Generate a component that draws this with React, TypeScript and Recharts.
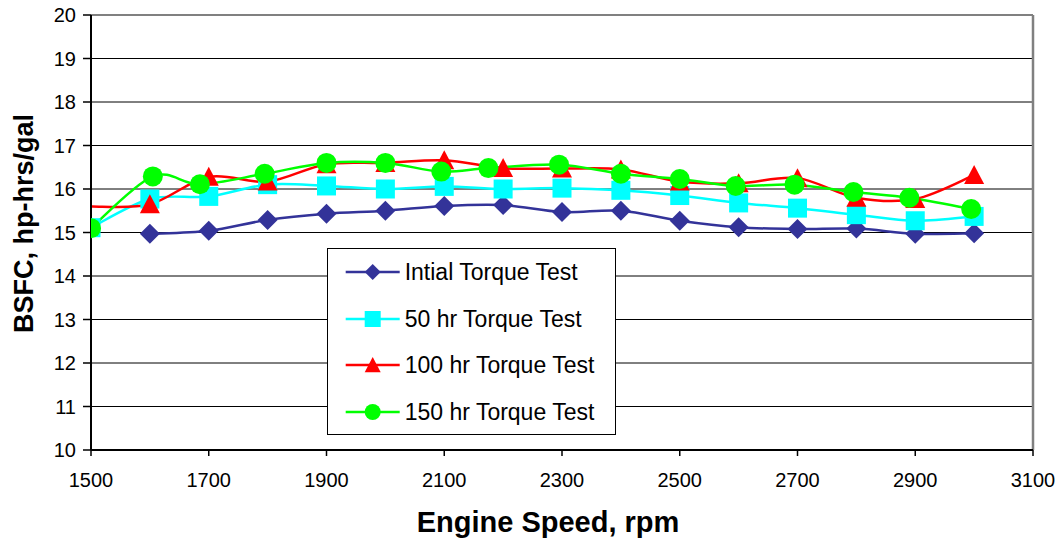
import React from "react";
import {
  LineChart,
  Line,
  XAxis,
  YAxis,
  CartesianGrid,
  ReferenceLine,
} from "recharts";

const FONT = '"Liberation Sans", Arial, sans-serif';

// values
const xTicks = [1500, 1700, 1900, 2100, 2300, 2500, 2700, 2900, 3100];
const yTicks = [10, 11, 12, 13, 14, 15, 16, 17, 18, 19, 20];

const seriesNames = [
  "Intial Torque Test",
  "50 hr Torque Test",
  "100 hr Torque Test",
  "150 hr Torque Test",
];

const initialRpm = [1600, 1700, 1800, 1900, 2000, 2100, 2200, 2300, 2400, 2500, 2600, 2700, 2800, 2900, 3000];
const initialBsfc = [14.97, 15.04, 15.29, 15.43, 15.5, 15.61, 15.63, 15.47, 15.5, 15.27, 15.12, 15.08, 15.09, 14.97, 14.98];

const hr50Rpm = [1500, 1600, 1700, 1800, 1900, 2000, 2100, 2200, 2300, 2400, 2500, 2600, 2700, 2800, 2900, 3000];
const hr50Bsfc = [15.11, 15.77, 15.83, 16.1, 16.07, 16.0, 16.06, 16.0, 16.02, 15.97, 15.85, 15.68, 15.56, 15.41, 15.27, 15.37];

const hr100Rpm = [1500, 1600, 1700, 1800, 1900, 2000, 2100, 2200, 2300, 2400, 2500, 2600, 2700, 2800, 2900, 3000];
const hr100Bsfc = [15.6, 15.65, 16.28, 16.17, 16.57, 16.6, 16.66, 16.48, 16.47, 16.45, 16.17, 16.13, 16.25, 15.8, 15.77, 16.32];

const hr150Rpm = [1500, 1605, 1685, 1795, 1900, 2000, 2095, 2175, 2295, 2400, 2500, 2595, 2695, 2795, 2890, 2995];
const hr150Bsfc = [15.1, 16.29, 16.11, 16.35, 16.6, 16.6, 16.4, 16.48, 16.56, 16.35, 16.23, 16.07, 16.1, 15.93, 15.8, 15.54];

const toRows = (rpm: number[], bsfc: number[]) =>
  rpm.map((r, i) => ({ rpm: r, bsfc: bsfc[i] }));

const initialData = toRows(initialRpm, initialBsfc);
const hr50Data = toRows(hr50Rpm, hr50Bsfc);
const hr100Data = toRows(hr100Rpm, hr100Bsfc);
const hr150Data = toRows(hr150Rpm, hr150Bsfc);

const colors = ["#333399", "#00FFFF", "#FF0000", "#00FF00"];

// Excel style smoothed line (Catmull-Rom as cubic beziers)
function excelSmooth(context: any) {
  let pts: number[][] = [];
  return {
    areaStart() {},
    areaEnd() {},
    lineStart() {
      pts = [];
    },
    point(x: number, y: number) {
      pts.push([+x, +y]);
    },
    lineEnd() {
      const n = pts.length;
      if (!n) return;
      context.moveTo(pts[0][0], pts[0][1]);
      for (let i = 0; i < n - 1; i++) {
        const p0 = pts[i - 1] || pts[i];
        const p1 = pts[i];
        const p2 = pts[i + 1];
        const p3 = pts[i + 2] || p2;
        context.bezierCurveTo(
          p1[0] + (p2[0] - p0[0]) / 6,
          p1[1] + (p2[1] - p0[1]) / 6,
          p2[0] - (p3[0] - p1[0]) / 6,
          p2[1] - (p3[1] - p1[1]) / 6,
          p2[0],
          p2[1]
        );
      }
    },
  };
}

function Marker({ kind, cx, cy, s }: any) {
  const h = s / 2;
  if (kind === 0)
    return (
      <polygon
        points={`${cx},${cy - h} ${cx + h},${cy} ${cx},${cy + h} ${cx - h},${cy}`}
        fill={colors[0]}
      />
    );
  if (kind === 1)
    return <rect x={cx - h} y={cy - h} width={s} height={s} fill={colors[1]} />;
  if (kind === 2)
    return (
      <polygon
        points={`${cx},${cy - h} ${cx + h},${cy + h * 0.9} ${cx - h},${cy + h * 0.9}`}
        fill={colors[2]}
      />
    );
  return <circle cx={cx} cy={cy} r={h} fill={colors[3]} />;
}

const dotFor = (kind: number, size: number, skipFirst = false) => (p: any) => {
  // the 100 hr line enters from the left edge with no marker shown
  if (skipFirst && p.index === 0) return <g key={`m${kind}-${p.index}`} />;
  return (
    <g key={`m${kind}-${p.index}`}>
      <Marker kind={kind} cx={p.cx} cy={p.cy} s={size} />
    </g>
  );
};

function LegendBox() {
  return (
    <div
      style={{
        position: "absolute",
        left: 327,
        top: 248,
        width: 289,
        height: 187,
        boxSizing: "border-box",
        border: "1px solid #000",
        background: "#fff",
        fontFamily: FONT,
      }}
    >
      {seriesNames.map((name, i) => (
        <div
          key={name}
          style={{
            position: "absolute",
            left: 0,
            top: 10 + i * 46.7,
            height: 26,
            width: 287,
          }}
        >
          <svg
            width={60}
            height={26}
            style={{ position: "absolute", left: 15, top: 0 }}
          >
            <line x1={2.7} y1={13} x2={56.7} y2={13} stroke={colors[i]} strokeWidth={2.5} />
            <Marker kind={i} cx={29.7} cy={13} s={16} />
          </svg>
          <span
            style={{
              position: "absolute",
              left: 76.7,
              top: 0,
              fontSize: 23,
              lineHeight: "26px",
              whiteSpace: "nowrap",
              color: "#000",
            }}
          >
            {name}
          </span>
        </div>
      ))}
    </div>
  );
}

export default function App() {
  const tickStyle = { fill: "#000", fontSize: 20, fontFamily: FONT };

  return (
    <div
      style={{
        position: "absolute",
        left: 0,
        top: 0,
        width: 1057,
        height: 544,
        background: "#fff",
      }}
    >
      <LineChart
        width={1057}
        height={544}
        margin={{ top: 15, right: 24, bottom: 0, left: 0 }}
      >
        <CartesianGrid vertical={false} stroke="#000" strokeWidth={1} />
        <XAxis
          type="number"
          dataKey="rpm"
          domain={[1500, 3100]}
          ticks={xTicks}
          allowDataOverflow
          height={94}
          tick={tickStyle}
          tickSize={6}
          tickMargin={17}
          axisLine={{ stroke: "#000", strokeWidth: 2 }}
          tickLine={{ stroke: "#000", strokeWidth: 1.5 }}
          label={{
            content: (props: any) => {
              const vb = props.viewBox;
              return (
                <text
                  x={vb.x + vb.width / 2 - 14}
                  y={531.7}
                  textAnchor="middle"
                  fontFamily={FONT}
                  fontWeight="bold"
                  fontSize={29}
                  fill="#000"
                >
                  Engine Speed, rpm
                </text>
              );
            },
          }}
        />
        <YAxis
          type="number"
          domain={[10, 20]}
          ticks={yTicks}
          width={91}
          tick={tickStyle}
          tickSize={8}
          tickMargin={7}
          axisLine={{ stroke: "#000", strokeWidth: 2 }}
          tickLine={{ stroke: "#000", strokeWidth: 1.5 }}
          label={{
            content: () => (
              <text
                x={33.3}
                y={223.5}
                transform="rotate(-90, 33.3, 223.5)"
                textAnchor="middle"
                fontFamily={FONT}
                fontWeight="bold"
                fontSize={27}
                fill="#000"
              >
                BSFC, hp-hrs/gal
              </text>
            ),
          }}
        />
        <ReferenceLine y={20} stroke="#808080" strokeWidth={2} />
        <ReferenceLine x={3100} stroke="#808080" strokeWidth={2.5} />
        <Line
          data={initialData}
          dataKey="bsfc"
          type={excelSmooth as any}
          stroke={colors[0]}
          strokeWidth={2.5}
          dot={dotFor(0, 20)}
          activeDot={false}
          isAnimationActive={false}
        />
        <Line
          data={hr50Data}
          dataKey="bsfc"
          type={excelSmooth as any}
          stroke={colors[1]}
          strokeWidth={2.5}
          dot={dotFor(1, 19)}
          activeDot={false}
          isAnimationActive={false}
        />
        <Line
          data={hr100Data}
          dataKey="bsfc"
          type={excelSmooth as any}
          stroke={colors[2]}
          strokeWidth={2.5}
          dot={dotFor(2, 20, true)}
          activeDot={false}
          isAnimationActive={false}
        />
        <Line
          data={hr150Data}
          dataKey="bsfc"
          type={excelSmooth as any}
          stroke={colors[3]}
          strokeWidth={2.5}
          dot={dotFor(3, 20)}
          activeDot={false}
          isAnimationActive={false}
        />
      </LineChart>
      <LegendBox />
    </div>
  );
}
